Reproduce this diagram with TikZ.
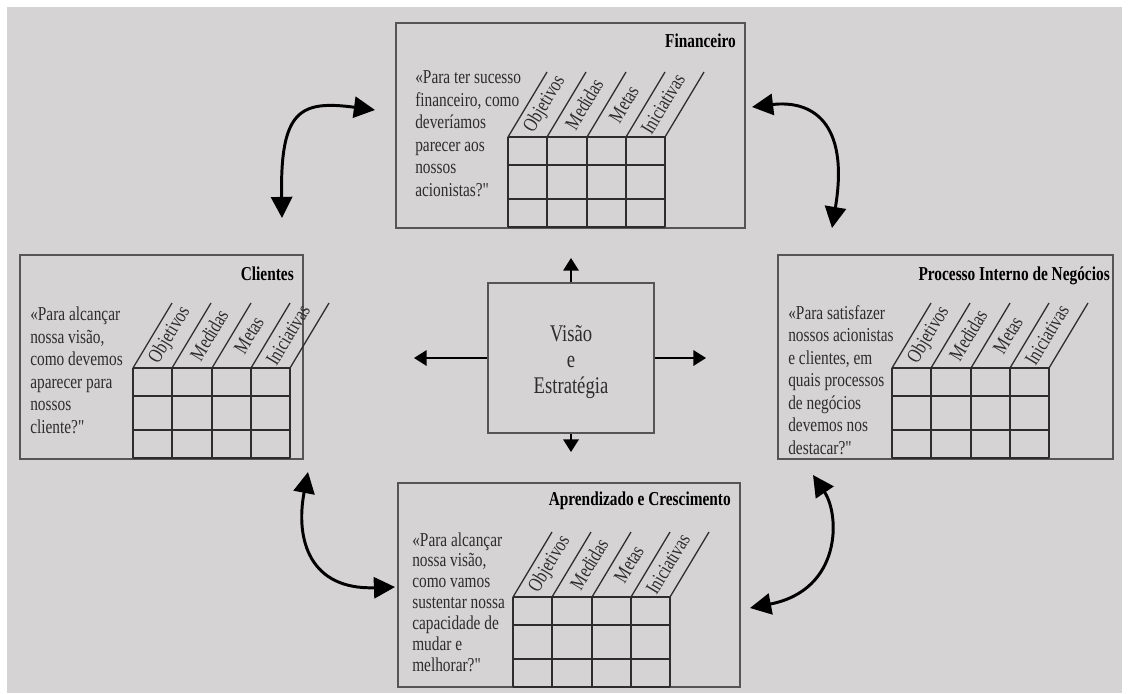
\documentclass[tikz,border=0pt]{standalone}
\usepackage{fontspec}
\setmainfont{Liberation Serif}[FakeStretch=0.78]
\newfontfamily\plainq{Liberation Serif}[FakeStretch=0.78, Ligatures=TeXOff]
\newcommand{\qmark}{{\plainq"}}
\usetikzlibrary{arrows.meta,fit}
\definecolor{bscbg}{RGB}{213,211,211}
\definecolor{bscline}{RGB}{85,85,85}
\definecolor{bscgrid}{RGB}{45,45,45}
\definecolor{bsctext}{RGB}{45,45,45}

\tikzset{
  bscbox/.style={draw=bscline, line width=0.8pt, inner sep=0pt},
  tabline/.style={draw=bscgrid, line width=0.9pt},
  heading/.style={font=\fontsize{14}{16}\selectfont\bfseries, text=black, inner sep=0pt},
  question/.style={font=\fontsize{14}{16}\selectfont, text=bsctext, align=left, inner sep=0pt},
  colname/.style={font=\fontsize{14.5}{16}\selectfont, text=bsctext, rotate=59, inner sep=0pt},
  bendarrow/.style={line width=2.1pt, {Triangle[length=15pt,width=15pt]}-{Triangle[length=15pt,width=15pt]}},
  visarrow/.style={line width=1.4pt, -{Triangle[length=9pt,width=11pt]}},
}

\begin{document}
\begin{tikzpicture}[x=0.025cm,y=-0.025cm]
\useasboundingbox (0,0) rectangle (1128,693);
% background
\fill[white] (0,0) rectangle (1128,693);
\fill[bscbg] (7,7) rectangle (1122,693);

% the four perspectives
\node[bscbox, fit={(396,23) (745,228)}] (fin) {};
\node[bscbox, fit={(20,255) (303,459)}] (cli) {};
\node[bscbox, fit={(778,255) (1113,459)}] (pro) {};
\node[bscbox, fit={(398,483) (740,687)}] (apr) {};

\node[heading, anchor=base east] (finhead) at (736,47) {Financeiro};
\node[heading, anchor=base east] (clihead) at (294,280) {Clientes};
\node[heading, anchor=base east] (prohead) at (1110,280) {Processo Interno de Negócios};
\node[heading, anchor=base east] (aprhead) at (731,505) {Aprendizado e Crescimento};

% questions, placed by the baseline of their last line
\node[question, anchor=base west] (finq) at (415,196)
  {«Para ter sucesso\\financeiro, como\\deveríamos\\parecer aos\\nossos\\acionistas?\qmark};
\node[question, anchor=base west] (cliq) at (30,433)
  {«Para alcançar\\nossa visão,\\como devemos\\aparecer para\\nossos\\cliente?\qmark};
\node[question, anchor=base west] (proq) at (788,454)
  {«Para satisfazer\\nossos acionistas\\e clientes, em\\quais processos\\de negócios\\devemos nos\\destacar?\qmark};
\node[question, anchor=base west, font=\fontsize{14}{14.8}\selectfont] (aprq) at (412,671)
  {«Para alcançar\\nossa visão,\\como vamos\\sustentar nossa\\capacidade de\\mudar e\\melhorar?\qmark};

% tables
\foreach \tx/\ty in {508/137, 133/368, 892/368, 513/597} {
  \foreach \r in {0,28,62,90}
    \draw[tabline] (\tx,\ty+\r) -- (\tx+157,\ty+\r);
  \foreach \c in {0,39,79,118,157} {
    \draw[tabline] (\tx+\c,\ty) -- (\tx+\c,\ty+90);
    \draw[tabline] (\tx+\c,\ty) -- (\tx+\c+39,\ty-65);
  }
  \foreach \c/\lbl in {0/Objetivos,39/Medidas,79/Metas,118/Iniciativas}
    \node[colname] at (\tx+\c+37,\ty-33) {\lbl};
}

% vision and strategy
\node[bscbox, fit={(488,283) (654,433)}] (vis) {};
\node[font=\fontsize{17}{18.2}\selectfont, text=bsctext, align=center, anchor=base] (vistxt) at (571,393) {Visão\\e\\Estratégia};

\coordinate (visN) at (571,258);
\coordinate (visS) at (571,452);
\coordinate (visE) at (706,358);
\coordinate (visW) at (414,358);
\draw[visarrow] (vis.north) -- (visN);
\draw[visarrow] (vis.south) -- (visS);
\draw[visarrow] (vis.east) -- (visE);
\draw[visarrow] (vis.west) -- (visW);

% links between perspectives
\coordinate (clitop) at (282,218);
\coordinate (finleft) at (375,110);
\coordinate (finright) at (752,107);
\coordinate (protop) at (832,228);
\coordinate (clibot) at (308,472);
\coordinate (aprleft) at (395,587);
\coordinate (probot) at (813,475);
\coordinate (aprright) at (750,608);

\draw[bendarrow] (clitop) .. controls (280,110) and (300,100) .. (finleft);
\draw[bendarrow] (finright) .. controls (810,100) and (850,120) .. (protop);
\draw[bendarrow] (clibot) .. controls (295,540) and (310,590) .. (aprleft);
\draw[bendarrow] (probot) .. controls (840,515) and (842,590) .. (aprright);
\end{tikzpicture}
\end{document}
